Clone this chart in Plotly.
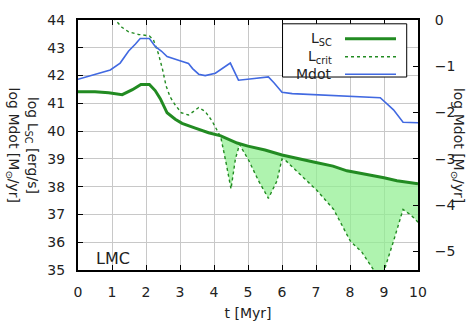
import numpy as np
import plotly.graph_objects as go

# ---- data ----
t_sc = [0, 0.5, 0.9, 1.3, 1.6, 1.85, 2.1, 2.27, 2.42, 2.62, 2.86, 3.06, 3.45, 3.84, 4.2,
        4.43, 4.68, 5.0, 5.5, 6.0, 6.5, 6.93, 7.5, 7.91, 8.3, 8.69, 9.0, 9.38, 9.7, 10.0]
l_sc = [41.42, 41.42, 41.38, 41.31, 41.49, 41.68, 41.68, 41.46, 41.17, 40.66, 40.43, 40.28,
        40.11, 39.94, 39.83, 39.71, 39.57, 39.46, 39.32, 39.14, 39.02, 38.89, 38.74, 38.57,
        38.48, 38.40, 38.32, 38.21, 38.15, 38.10]

t_crit = [1.0, 1.1, 1.29, 1.49, 1.78, 2.1, 2.22, 2.37, 2.49, 2.59, 2.71, 2.86, 3.04, 3.25,
          3.4, 3.55, 3.74, 3.94, 4.09, 4.2, 4.35, 4.5, 4.63, 4.75, 5.02, 5.31, 5.6, 5.85,
          6.0, 6.1, 6.44, 7.03, 7.52, 8.01, 8.35, 8.69, 8.85, 9.01, 9.28, 9.56, 9.65, 9.77,
          9.9, 10.0]
l_crit = [44.3, 44.0, 43.74, 43.57, 43.48, 43.43, 43.28, 42.77, 42.2, 41.63, 41.23, 40.94,
          40.66, 40.58, 40.71, 40.85, 40.71, 40.37, 40.03, 39.78, 38.89, 37.92, 39.0, 39.52,
          38.95, 38.21, 37.58, 38.2, 39.0, 38.95, 38.55, 37.86, 37.18, 36.04, 35.64, 35.01,
          34.9, 35.0, 36.04, 37.18, 37.1, 37.0, 36.85, 36.72]

t_md = [0, 0.95, 1.24, 1.49, 1.69, 1.83, 2.1, 2.27, 2.45, 2.62, 3.0, 3.25, 3.37, 3.55, 3.74,
        4.04, 4.48, 4.72, 5.12, 5.6, 5.77, 6.0, 6.3, 7.0, 7.9, 8.89, 9.28, 9.56, 10.0]
mdot = [-1.28, -1.08, -0.93, -0.67, -0.52, -0.40, -0.40, -0.57, -0.67, -0.79, -0.88, -0.94,
        -1.05, -1.17, -1.20, -1.15, -0.93, -1.30, -1.27, -1.23, -1.36, -1.56, -1.59, -1.61,
        -1.65, -1.68, -1.94, -2.21, -2.22]

x_ticks = list(range(0, 11))
y_ticks = list(range(35, 45))
y2_ticks = [0, -1, -2, -3, -4, -5]

GREEN = "#228b22"
BLUE = "#4169e1"
FONT = "DejaVu Sans"

# fill region where L_crit < L_SC
tc = np.array(t_crit)
upper = np.interp(tc, t_sc, l_sc)
lower = np.minimum(np.array(l_crit), upper)

fig = go.Figure()
fig.add_trace(go.Scatter(x=tc, y=upper, mode="lines", line=dict(width=0),
                         hoverinfo="skip", showlegend=False))
fig.add_trace(go.Scatter(x=tc, y=lower, mode="lines", line=dict(width=0),
                         fill="tonexty", fillcolor="rgba(144,238,144,0.72)",
                         hoverinfo="skip", showlegend=False))
fig.add_trace(go.Scatter(x=t_crit, y=l_crit, mode="lines", name="L_crit",
                         line=dict(color=GREEN, width=1.4, dash="dot"), showlegend=False))
fig.add_trace(go.Scatter(x=t_sc, y=l_sc, mode="lines", name="L_SC",
                         line=dict(color=GREEN, width=3), showlegend=False))
fig.add_trace(go.Scatter(x=t_md, y=mdot, mode="lines", name="Mdot", yaxis="y2",
                         line=dict(color=BLUE, width=1.6), showlegend=False))

fig.update_layout(
    width=471, height=331,
    margin=dict(l=78, r=53, t=14, b=54),
    paper_bgcolor="white", plot_bgcolor="white",
    font=dict(family=FONT, size=14, color="#222"),
    xaxis=dict(range=[0, 10], tickvals=x_ticks, ticks="inside", ticklen=5,
               tickcolor="black", showline=True, linecolor="black", linewidth=2,
               mirror="ticks", showgrid=True, gridcolor="#c8c8c8", gridwidth=1,
               zeroline=False, ticklabelstandoff=8,
               title=dict(text="t [Myr]", standoff=9, font=dict(size=14))),
    yaxis=dict(range=[35, 44], tickvals=y_ticks, ticks="inside", ticklen=5,
               tickcolor="black", showline=True, linecolor="black", linewidth=2,
               showgrid=True, gridcolor="#c8c8c8", gridwidth=1, zeroline=False,
               ticklabelstandoff=8),
    yaxis2=dict(range=[-5.4, 0], tickvals=y2_ticks, ticks="inside", ticklen=5,
                tickcolor="black", overlaying="y", side="right", showline=True,
                linecolor="black", linewidth=2, showgrid=False, zeroline=False,
                ticklabelstandoff=12),
    showlegend=False,
)

# axis titles (rotated)
fig.add_annotation(xref="paper", yref="paper", x=-0.135, y=0.5, xanchor="center",
                   yanchor="middle", textangle=90, showarrow=False,
                   text="log L<sub>SC</sub> [erg/s]", font=dict(size=14))
fig.add_annotation(xref="paper", yref="paper", x=-0.19, y=0.5, xanchor="center",
                   yanchor="middle", textangle=90, showarrow=False,
                   text="log Mdot [M<sub>⊙</sub>/yr]", font=dict(size=14))
fig.add_annotation(xref="paper", yref="paper", x=1.118, y=0.5, xanchor="center",
                   yanchor="middle", textangle=90, showarrow=False,
                   text="log Mdot [M<sub>⊙</sub>/yr]", font=dict(size=14))

# LMC label
fig.add_annotation(xref="paper", yref="paper", x=0.104, y=0.045, xanchor="center",
                   yanchor="middle", showarrow=False, text="LMC", font=dict(size=16))

# manual legend (text left, sample right)
fig.add_shape(type="rect", xref="paper", yref="paper", x0=0.6016, x1=0.9668,
              y0=0.7719, y1=0.9848, fillcolor="white", line=dict(color="black", width=1),
              layer="above")
rows = [("L<sub>SC</sub>", 0.925, dict(color=GREEN, width=3)),
        ("L<sub>crit</sub>", 0.853, dict(color=GREEN, width=1.5, dash="dot")),
        ("Mdot", 0.783, dict(color=BLUE, width=1.6))]
for txt, yy, ln in rows:
    fig.add_annotation(xref="paper", yref="paper", x=0.752, y=yy, xanchor="right",
                       yanchor="middle", showarrow=False, text=txt, font=dict(size=14))
    fig.add_shape(type="line", xref="paper", yref="paper", x0=0.7853, x1=0.9353,
                  y0=yy, y1=yy, line=ln, layer="above")

fig.write_html("out.html")
